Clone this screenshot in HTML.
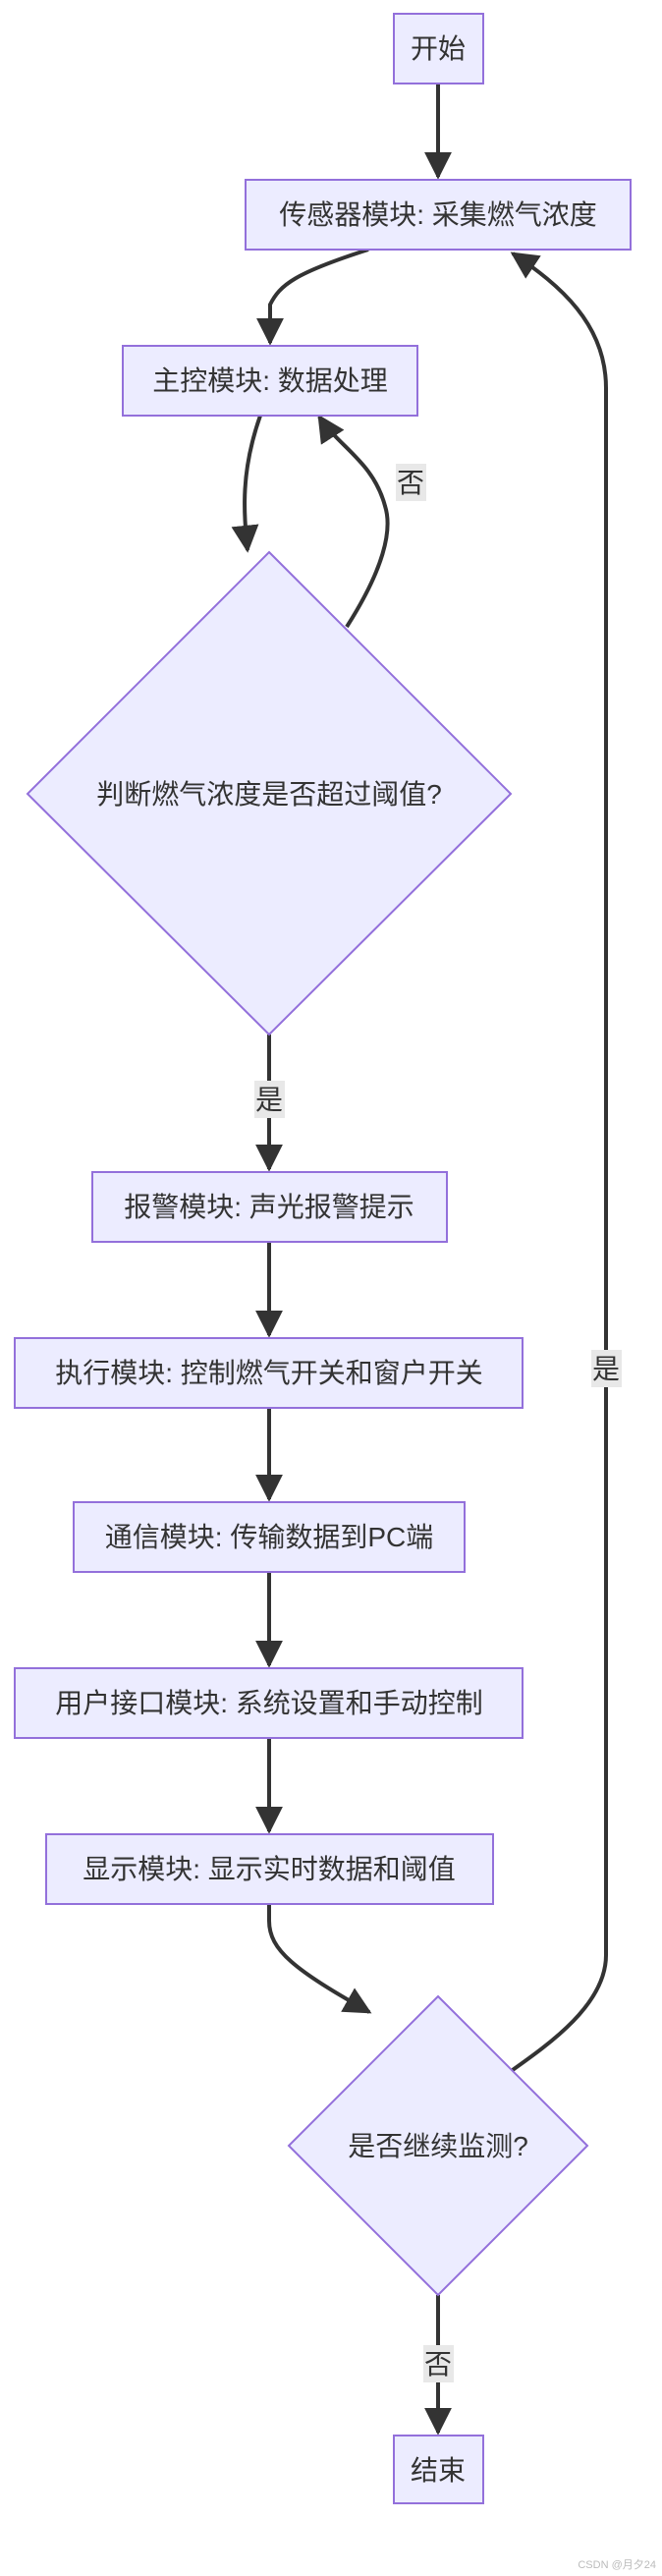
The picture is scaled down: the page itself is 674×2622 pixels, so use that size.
<!DOCTYPE html>
<html><head><meta charset="utf-8"><style>
html,body{margin:0;padding:0;background:#fff;}
svg{display:block}
text{font-family:"Liberation Sans","Noto Sans CJK SC",sans-serif;font-size:28px;fill:#333;}
.n{fill:#ECECFF;stroke:#9370DB;stroke-width:2;}
.e{fill:none;stroke:#333;stroke-width:4;}
.lb{fill:#e8e8e8;}
</style></head><body>
<svg width="674" height="2622" viewBox="0 0 674 2622" xmlns="http://www.w3.org/2000/svg">
<defs><marker id="a" viewBox="0 0 10 10" refX="9" refY="5" markerWidth="5" markerHeight="5" orient="auto-start-reverse" markerUnits="userSpaceOnUse"><path d="M0,0L10,5L0,10z" fill="#333"/></marker>
<marker id="b" viewBox="0 0 10 10" refX="9" refY="5" markerWidth="28" markerHeight="28" orient="auto" markerUnits="userSpaceOnUse"><path d="M0,0L10,5L0,10z" fill="#333"/></marker></defs>

<!-- edges -->
<path class="e" d="M446,85 L446,180" marker-end="url(#b)"/>
<path class="e" d="M375,254 C300,278 285,290 275,310 L275,349" marker-end="url(#b)"/>
<path class="e" d="M265,423 C245,480 248,520 252,560" marker-end="url(#b)"/>
<path class="e" d="M353,638 C390,580 400,540 392,515 C380,470 345,455 325,424" marker-end="url(#b)"/>
<path class="e" d="M274,1053 L274,1190" marker-end="url(#b)"/>
<path class="e" d="M274,1264 L274,1359" marker-end="url(#b)"/>
<path class="e" d="M274,1433 L274,1526" marker-end="url(#b)"/>
<path class="e" d="M274,1600 L274,1695" marker-end="url(#b)"/>
<path class="e" d="M274,1769 L274,1864" marker-end="url(#b)"/>
<path class="e" d="M274,1938 L274,1955 C274,1985 300,2005 376,2048" marker-end="url(#b)"/>
<path class="e" d="M519,2109 C560,2080 617,2040 617,1990 L617,395 C617,330 570,290 522,258" marker-end="url(#b)"/>
<path class="e" d="M446,2336 L446,2476" marker-end="url(#b)"/>

<!-- nodes -->
<rect class="n" x="401" y="14" width="91" height="71"/>
<text x="446" y="59" text-anchor="middle">开始</text>
<rect class="n" x="250" y="183" width="392" height="71"/>
<text x="446" y="228" text-anchor="middle">传感器模块: 采集燃气浓度</text>
<rect class="n" x="125" y="352" width="300" height="71"/>
<text x="275" y="397" text-anchor="middle">主控模块: 数据处理</text>
<polygon class="n" points="274,562 520,808 274,1053 28,808"/>
<text x="274" y="818" text-anchor="middle">判断燃气浓度是否超过阈值?</text>
<rect class="n" x="94" y="1193" width="361" height="71"/>
<text x="274" y="1238" text-anchor="middle">报警模块: 声光报警提示</text>
<rect class="n" x="15" y="1362" width="517" height="71"/>
<text x="274" y="1407" text-anchor="middle">执行模块: 控制燃气开关和窗户开关</text>
<rect class="n" x="75" y="1529" width="398" height="71"/>
<text x="274" y="1574" text-anchor="middle">通信模块: 传输数据到PC端</text>
<rect class="n" x="15" y="1698" width="517" height="71"/>
<text x="274" y="1743" text-anchor="middle">用户接口模块: 系统设置和手动控制</text>
<rect class="n" x="47" y="1867" width="455" height="71"/>
<text x="274" y="1912" text-anchor="middle">显示模块: 显示实时数据和阈值</text>
<polygon class="n" points="446,2032 598,2184 446,2336 294,2184"/>
<text x="446" y="2194" text-anchor="middle">是否继续监测?</text>
<rect class="n" x="401" y="2479" width="91" height="69"/>
<text x="446" y="2524" text-anchor="middle">结束</text>

<!-- labels -->
<rect class="lb" x="403" y="472" width="31" height="38"/>
<text x="418" y="501" text-anchor="middle">否</text>
<rect class="lb" x="259" y="1100" width="31" height="38"/>
<text x="274" y="1129" text-anchor="middle">是</text>
<rect class="lb" x="602" y="1374" width="31" height="38"/>
<text x="617" y="1403" text-anchor="middle">是</text>
<rect class="lb" x="431" y="2387" width="31" height="38"/>
<text x="446" y="2416" text-anchor="middle">否</text>
<text x="668" y="2614" text-anchor="end" style="font-size:11px;fill:#bbb">CSDN @月夕24</text>
</svg>
</body></html>
